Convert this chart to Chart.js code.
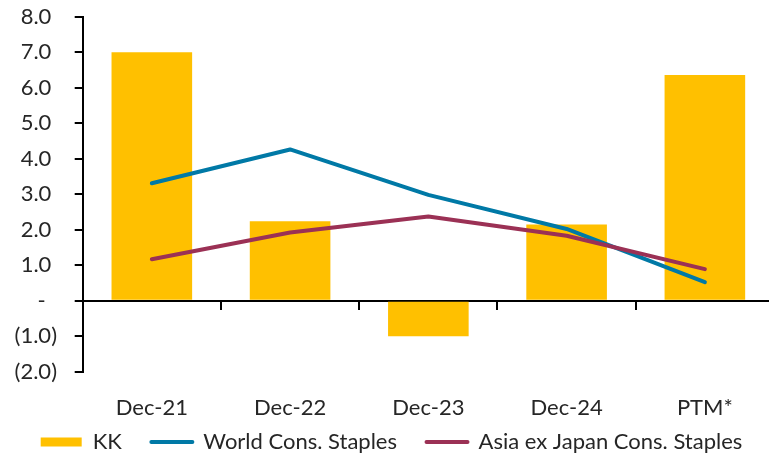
<!DOCTYPE html>
<html>
<head>
<meta charset="utf-8">
<script src="https://cdn.jsdelivr.net/npm/chart.js@4.4.1/dist/chart.umd.min.js"></script>
<style>
  html, body { margin: 0; padding: 0; background: #ffffff; }
  #frame { width: 769px; height: 455px; overflow: hidden; position: relative; }
  #frame canvas { position: absolute; left: 0; top: 0; }
</style>
</head>
<body>
<div id="frame"><canvas id="chart" width="783" height="463"></canvas></div>
<script>
// Categories and series
const categories = ['Dec-21', 'Dec-22', 'Dec-23', 'Dec-24', 'PTM*'];
const kk = [7.0, 2.24, -1.0, 2.15, 6.36];
const worldStaples = [3.31, 4.26, 2.98, 2.02, 0.52];
const asiaStaples = [1.17, 1.92, 2.37, 1.83, 0.89];

// Y tick labels, bottom to top (accounting style)
const yTickLabels = ['(2.0)', '(1.0)', '-  ', '1.0 ', '2.0 ', '3.0 ', '4.0 ', '5.0 ', '6.0 ', '7.0 ', '8.0 '];

const FONT = 'Lato, "Open Sans", "Noto Sans", sans-serif';
const FONT_SIZE = 22;
const TEXT = '#262626';
const GOLD = '#FFC000';
const BLUE = '#0079A6';
const MAROON = '#9B3155';

const baseLabels = Chart.defaults.plugins.legend.labels.generateLabels;

new Chart(document.getElementById('chart'), {
  data: {
    labels: categories,
    datasets: [
      {
        type: 'bar', label: 'KK', data: kk, order: 2,
        backgroundColor: GOLD, borderWidth: 0,
        categoryPercentage: 1.0, barPercentage: 0.583
      },
      {
        type: 'line', label: 'World Cons. Staples', data: worldStaples, order: 1,
        borderColor: BLUE, backgroundColor: BLUE, borderWidth: 4,
        borderCapStyle: 'round', borderJoinStyle: 'round',
        pointRadius: 0, pointHoverRadius: 0, tension: 0, fill: false
      },
      {
        type: 'line', label: 'Asia ex Japan Cons. Staples', data: asiaStaples, order: 0,
        borderColor: MAROON, backgroundColor: MAROON, borderWidth: 4,
        borderCapStyle: 'round', borderJoinStyle: 'round',
        pointRadius: 0, pointHoverRadius: 0, tension: 0, fill: false
      }
    ]
  },
  options: {
    responsive: false,
    animation: false,
    devicePixelRatio: 1,
    layout: { padding: { left: 9, right: 9, top: 16.7, bottom: 0 } },
    plugins: {
      tooltip: { enabled: false },
      legend: {
        position: 'bottom',
        align: 'center',
        labels: {
          font: { family: FONT, size: FONT_SIZE },
          color: TEXT,
          padding: 13,
          usePointStyle: true,
          pointStyleWidth: 41,
          boxHeight: 9,
          sort: (a, b) => a.datasetIndex - b.datasetIndex,
          generateLabels(chart) {
            const items = baseLabels(chart).sort((a, b) => a.datasetIndex - b.datasetIndex);
            return items.map((item, i) => {
              const ds = chart.data.datasets[item.datasetIndex];
              // wider spacing between legend entries
              if (i < items.length - 1) item.text = item.text + '\u2003';
              if (ds.type === 'bar') {
                item.pointStyle = 'rect';
                item.fillStyle = ds.backgroundColor;
                item.lineWidth = 0;
              } else {
                item.pointStyle = 'line';
                item.strokeStyle = ds.borderColor;
                item.lineWidth = 4;
                item.lineCap = 'round';
              }
              return item;
            });
          }
        }
      }
    },
    scales: {
      x: {
        type: 'category',
        position: 'bottom',
        offset: true,
        grid: { display: false, drawTicks: false },
        border: { display: false },
        ticks: { font: { family: FONT, size: FONT_SIZE }, color: TEXT, padding: 23.4, maxRotation: 0, autoSkip: false },
        afterFit(scale) { scale.height = 46.3; }
      },
      xZero: {
        type: 'category',
        labels: categories,
        position: { y: 0 },
        offset: true,
        grid: {
          offset: true, drawOnChartArea: false, drawTicks: true,
          tickLength: 8, color: '#000000', lineWidth: 2
        },
        border: { display: true, color: '#000000', width: 2 },
        ticks: { display: false }
      },
      y: {
        type: 'linear',
        position: 'left',
        min: -2, max: 8,
        grid: {
          drawOnChartArea: false, drawTicks: true,
          tickLength: 8, color: '#000000', lineWidth: 2
        },
        border: { display: true, color: '#000000', width: 2 },
        ticks: {
          stepSize: 1,
          autoSkip: false,
          font: { family: FONT, size: FONT_SIZE },
          color: TEXT,
          padding: 17.7,
          callback: (value, index) => yTickLabels[index]
        },
        afterFit(scale) {
          scale.width = 73.7;
          // top/bottom label overhang is covered by the layout padding and the x axis
          scale.paddingTop = 0;
          scale.paddingBottom = 0;
        }
      }
    }
  }
});
</script>
</body>
</html>
